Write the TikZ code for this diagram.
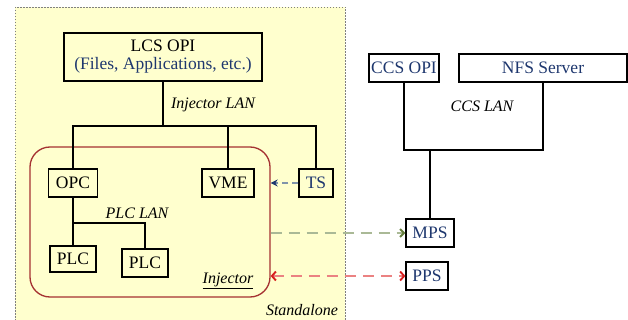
\documentclass[tikz,border=0pt]{standalone}
\usepackage{fontspec}
\setmainfont{Liberation Serif}
\usetikzlibrary{calc,arrows.meta}

\definecolor{paleyellow}{RGB}{255,255,206}
\definecolor{textblue}{RGB}{30,55,110}
\definecolor{injred}{RGB}{165,50,50}
\definecolor{tsline}{RGB}{128,148,170}
\definecolor{mpsline}{RGB}{170,185,150}
\definecolor{mpshead}{RGB}{100,125,60}
\definecolor{ppsline}{RGB}{235,130,130}
\definecolor{ppshead}{RGB}{215,30,30}

\begin{document}
\begin{tikzpicture}[x=1pt, y=-1pt,
    box/.style={draw, line width=1.2pt, inner sep=0pt, font=\fontsize{17.5}{20}\selectfont},
    lan/.style={font=\fontsize{16}{18}\selectfont\itshape},
    bus/.style={line width=1.2pt}]

    % canvas
    \useasboundingbox (0,0) rectangle (628,320);

    % standalone area
    \draw[gray, line width=0.9pt, dash pattern=on 1.5pt off 1.5pt, fill=paleyellow] (15,7) rectangle (345,330);

    % injector area
    \node[draw=injred, line width=1.3pt, rounded corners=20pt, minimum width=240, minimum height=150] (inj) at (150,222) {};

    % nodes
    \node[box, align=center, minimum width=198, minimum height=48] (lcs) at (163,57)
        {LCS OPI\\[-2pt]\textcolor{textblue}{(Files, Applications, etc.)}};
    \node[box, minimum width=49, minimum height=28] (opc) at (73,183) {OPC};
    \node[box, minimum width=52, minimum height=28] (vme) at (228,183) {VME};
    \node[box, text=textblue, minimum width=34, minimum height=28] (ts) at (316,183) {TS};
    \node[box, minimum width=46, minimum height=26] (plca) at (73,259) {PLC};
    \node[box, minimum width=46, minimum height=28] (plcb) at (145,263) {PLC};
    \node[box, text=textblue, minimum width=70, minimum height=28] (ccs) at (404,68) {CCS OPI};
    \node[box, text=textblue, minimum width=168, minimum height=28] (nfs) at (543,68) {NFS Server};
    \node[box, text=textblue, minimum width=48, minimum height=28] (mps) at (430,233) {MPS};
    \node[box, text=textblue, minimum width=42, minimum height=28] (pps) at (427,276) {PPS};

    % injector LAN
    \coordinate (injlan) at (163,126);
    \draw[bus] (lcs.south) -- (injlan);
    \draw[bus] (opc.north) -- (opc.north |- injlan) -- (ts.north |- injlan) -- (ts.north);
    \draw[bus] (vme.north) -- (vme.north |- injlan);
    \node[lan] (injlanlabel) at (213,105) {Injector LAN};

    % PLC LAN
    \coordinate (plclan) at (73,223);
    \draw[bus] (opc.south) -- (plca.north);
    \draw[bus] (plclan) -| (plcb.north);
    \node[lan] (plclanlabel) at (137,213) {PLC LAN};

    % CCS LAN
    \coordinate (ccslan) at (430,150);
    \draw[bus] (ccs.south) -- (ccs.south |- ccslan) -- (nfs.south |- ccslan) -- (nfs.south);
    \draw[bus] (mps.north) -- (ccslan);
    \node[lan] (ccslanlabel) at (482,106) {CCS LAN};

    % signals
    \draw[tsline, line width=1.6pt, dash pattern=on 6pt off 4pt, -{Stealth[color=textblue, length=7pt, width=7pt]}]
        (ts.west) -- (inj.east |- ts.west);
    \draw[mpsline, line width=1.9pt, dash pattern=on 11pt off 7pt, -{Straight Barb[color=mpshead, length=4pt, width=8pt]}]
        (inj.east |- mps.west) -- (mps.west);
    \draw[ppsline, line width=1.9pt, dash pattern=on 11pt off 7pt,
        {Straight Barb[color=ppshead, length=4pt, width=9pt]}-{Straight Barb[color=ppshead, length=4pt, width=9pt]}]
        (inj.east |- pps.west) -- (pps.west);

    % area labels
    \node[lan] (injlabel) at (228,281) {\underline{Injector}};
    \node[lan] (salabel) at (302,310) {Standalone};

\end{tikzpicture}
\end{document}
